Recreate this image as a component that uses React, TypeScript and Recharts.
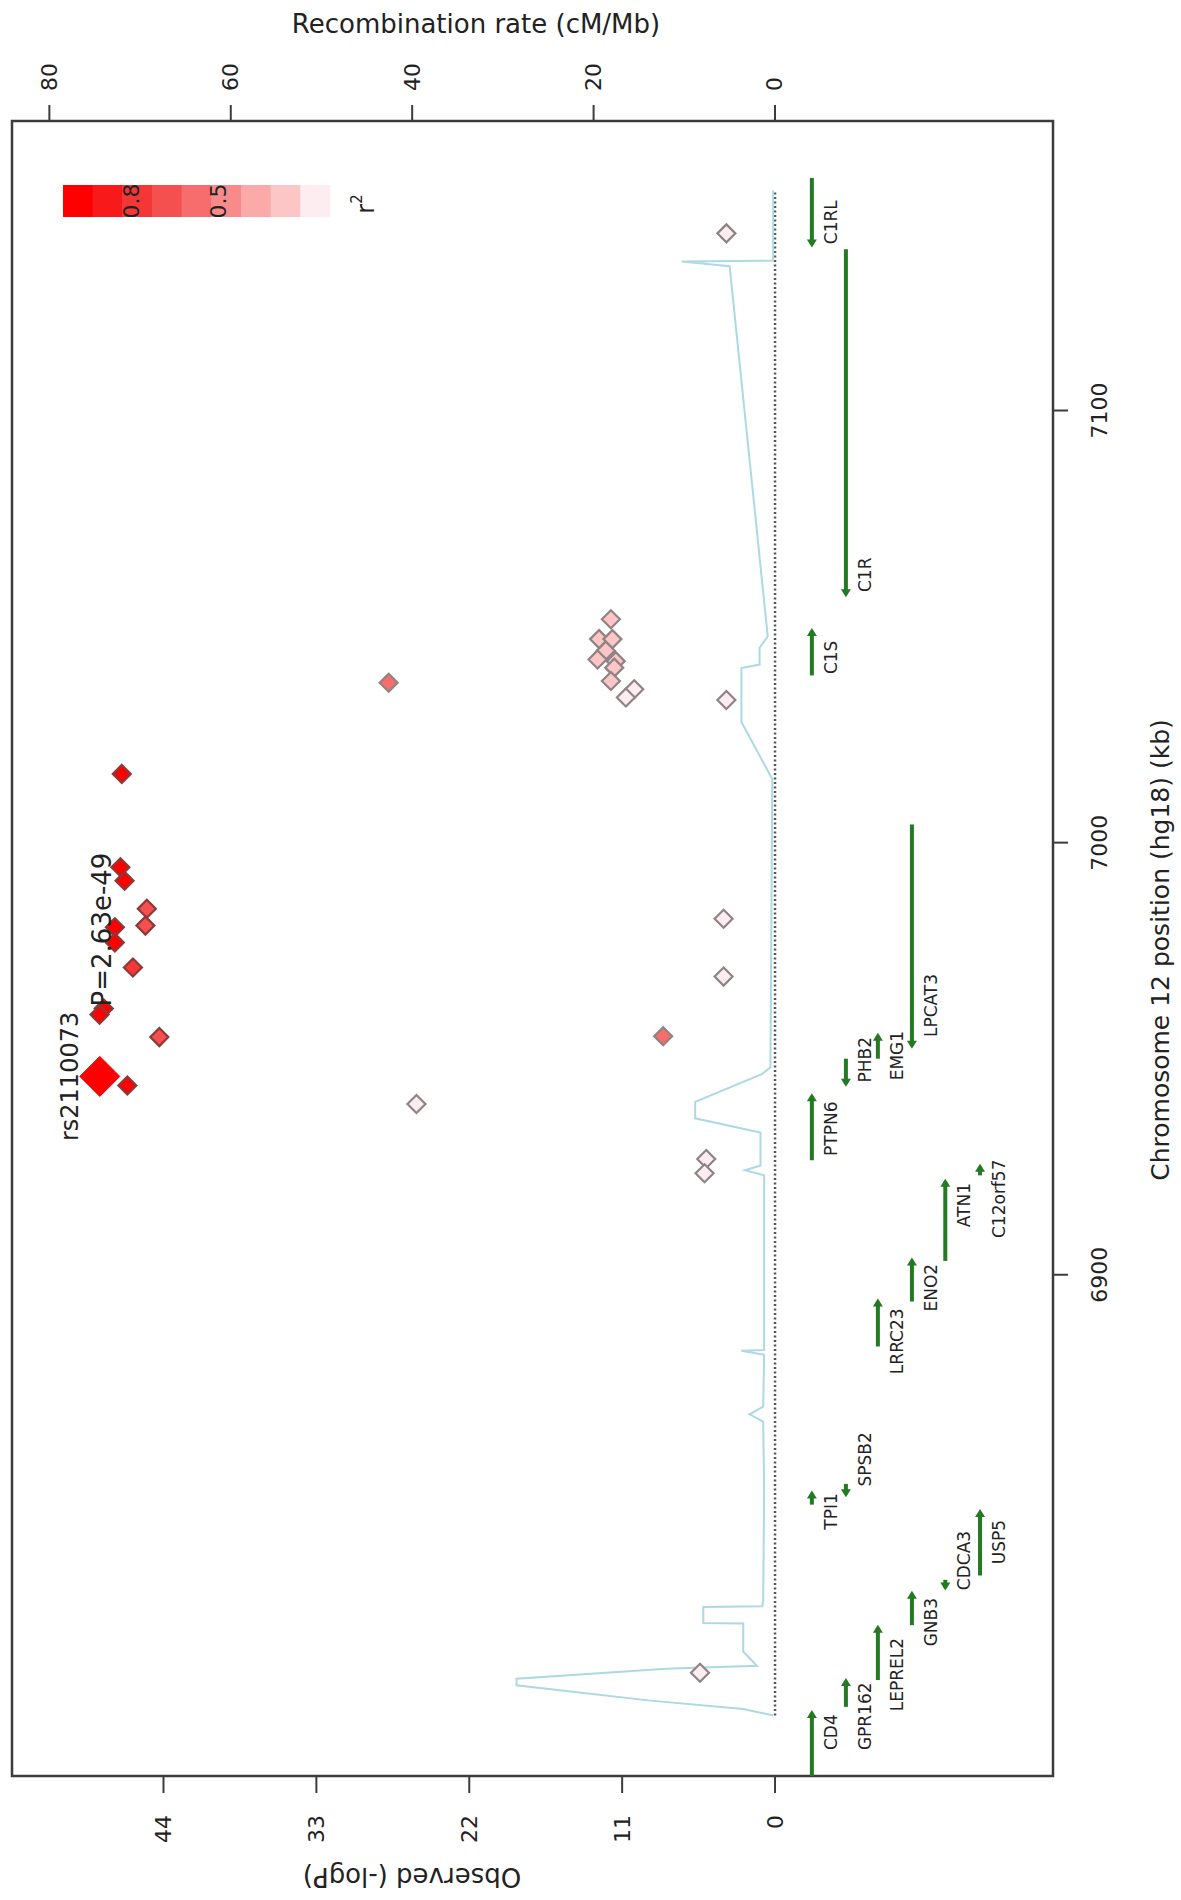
import React from 'react';
import { ScatterChart, Scatter, XAxis, YAxis, ReferenceLine, ReferenceArea } from 'recharts';

const CHART_W = 1181;
const CHART_H = 1900;
const FONT = '"DejaVu Sans", "Liberation Sans", sans-serif';
const INK = '#222222';
const FRAME = '#3c3c3c';
const GENE_GREEN = '#237a23';
const RECOMB_BLUE = '#ADD8E6';

// ---- axes ----
const POS_DOMAIN: [number, number] = [6784, 7167.0];
const LOGP_DOMAIN: [number, number] = [-20, 54.9];
const RATE_DOMAIN: [number, number] = [-30.65, 84.12];
const POS_TICKS = [6900, 7000, 7100];
const LOGP_TICKS = [0, 11, 22, 33, 44];
const RATE_TICKS = [0, 20, 40, 60, 80];

// ---- SNPs ----
const indexSnp = [{ pos: 6945.9, logp: 48.58, name: 'rs2110073', p: 'P=2.63e-49' }];

const snps = [
  { pos: 7015.9, logp: 47.0, r2: 0.92 },
  { pos: 6994.3, logp: 47.1, r2: 0.92 },
  { pos: 6991.2, logp: 46.8, r2: 0.9 },
  { pos: 6984.7, logp: 45.2, r2: 0.65 },
  { pos: 6980.8, logp: 45.3, r2: 0.65 },
  { pos: 6980.4, logp: 47.5, r2: 0.92 },
  { pos: 6976.9, logp: 47.5, r2: 0.92 },
  { pos: 6971.1, logp: 46.2, r2: 0.7 },
  { pos: 6961.6, logp: 48.3, r2: 0.92 },
  { pos: 6960.2, logp: 48.6, r2: 0.92 },
  { pos: 6955.0, logp: 44.3, r2: 0.65 },
  { pos: 6943.8, logp: 46.6, r2: 0.9 },
  { pos: 7037.0, logp: 27.8, r2: 0.45 },
  { pos: 7051.7, logp: 11.81, r2: 0.18 },
  { pos: 7047.1, logp: 12.66, r2: 0.18 },
  { pos: 7047.1, logp: 11.7, r2: 0.18 },
  { pos: 7044.4, logp: 12.18, r2: 0.18 },
  { pos: 7042.4, logp: 12.77, r2: 0.18 },
  { pos: 7042.0, logp: 11.46, r2: 0.18 },
  { pos: 7040.5, logp: 11.57, r2: 0.18 },
  { pos: 7037.4, logp: 11.81, r2: 0.18 },
  { pos: 7035.5, logp: 10.13, r2: 0.03 },
  { pos: 7033.6, logp: 10.73, r2: 0.03 },
  { pos: 6939.5, logp: 25.8, r2: 0.05 },
  { pos: 7141.0, logp: 3.5, r2: 0.02 },
  { pos: 7033.0, logp: 3.5, r2: 0.02 },
  { pos: 6982.4, logp: 3.7, r2: 0.02 },
  { pos: 6969.0, logp: 3.7, r2: 0.02 },
  { pos: 6955.2, logp: 8.05, r2: 0.45 },
  { pos: 6926.8, logp: 4.95, r2: 0.02 },
  { pos: 6923.5, logp: 5.07, r2: 0.02 },
  { pos: 6807.9, logp: 5.4, r2: 0.02 },
];

// ---- recombination rate (cM/Mb) along position (kb) ----
const recomb = [
  { pos: 6798.0, rate: 0.2 },
  { pos: 6799.5, rate: 3.5 },
  { pos: 6801.5, rate: 14 },
  { pos: 6805.0, rate: 28.5 },
  { pos: 6806.5, rate: 28.5 },
  { pos: 6808.8, rate: 12 },
  { pos: 6809.5, rate: 2.0 },
  { pos: 6810.6, rate: 2.5 },
  { pos: 6812.8, rate: 3.5 },
  { pos: 6819.3, rate: 3.5 },
  { pos: 6819.4, rate: 7.9 },
  { pos: 6823.1, rate: 7.9 },
  { pos: 6823.3, rate: 1.4 },
  { pos: 6824.7, rate: 1.3 },
  { pos: 6850.0, rate: 1.2 },
  { pos: 6866.0, rate: 1.3 },
  { pos: 6867.7, rate: 2.8 },
  { pos: 6869.5, rate: 1.3 },
  { pos: 6881.5, rate: 1.2 },
  { pos: 6882.4, rate: 3.7 },
  { pos: 6882.6, rate: 1.2 },
  { pos: 6923.0, rate: 1.2 },
  { pos: 6924.2, rate: 3.3 },
  { pos: 6925.3, rate: 1.6 },
  { pos: 6932.9, rate: 1.6 },
  { pos: 6936.2, rate: 8.8 },
  { pos: 6940.0, rate: 8.8 },
  { pos: 6946.5, rate: 1.4 },
  { pos: 6948.0, rate: 0.5 },
  { pos: 7014.7, rate: 0.3 },
  { pos: 7027.9, rate: 3.7 },
  { pos: 7040.4, rate: 3.7 },
  { pos: 7041.2, rate: 1.7 },
  { pos: 7045.1, rate: 1.7 },
  { pos: 7047.7, rate: 0.8 },
  { pos: 7133.4, rate: 5.0 },
  { pos: 7134.5, rate: 10.3 },
  { pos: 7134.7, rate: 0.2 },
  { pos: 7151.0, rate: 0.2 },
];

const BASELINE = { from: 6798, to: 7151 };

// ---- genes (kb) ----
const TRACK_LOGP = [-2.65, -5.1, -7.4, -9.85, -12.25, -14.75];

const genes = [
  { name: 'CD4', start: 6784, end: 6798.6, strand: '+', track: 0, labelAt: 6790 },
  { name: 'GPR162', start: 6800, end: 6806, strand: '+', track: 1, labelAt: 6790 },
  { name: 'LEPREL2', start: 6806.2, end: 6818.3, strand: '+', track: 2, labelAt: 6799 },
  { name: 'GNB3', start: 6818.9, end: 6826.2, strand: '+', track: 3, labelAt: 6814 },
  { name: 'CDCA3', start: 6827.6, end: 6829.4, strand: '-', track: 4, labelAt: 6827 },
  { name: 'USP5', start: 6830.4, end: 6845.1, strand: '+', track: 5, labelAt: 6833 },
  { name: 'TPI1', start: 6846.8, end: 6849.4, strand: '+', track: 0, labelAt: 6841 },
  { name: 'SPSB2', start: 6849.2, end: 6851.6, strand: '-', track: 1, labelAt: 6851 },
  { name: 'LRRC23', start: 6883.4, end: 6893.8, strand: '+', track: 2, labelAt: 6877 },
  { name: 'ENO2', start: 6893.8, end: 6903.3, strand: '+', track: 3, labelAt: 6891.5 },
  { name: 'ATN1', start: 6903.2, end: 6921.5, strand: '+', track: 4, labelAt: 6911 },
  { name: 'C12orf57', start: 6923, end: 6925, strand: '+', track: 5, labelAt: 6908.5 },
  { name: 'PTPN6', start: 6926.5, end: 6941.3, strand: '+', track: 0, labelAt: 6927.5 },
  { name: 'PHB2', start: 6944.2, end: 6950, strand: '-', track: 1, labelAt: 6944.5 },
  { name: 'EMG1', start: 6950, end: 6955.3, strand: '+', track: 2, labelAt: 6945 },
  { name: 'LPCAT3', start: 6953, end: 7004.2, strand: '-', track: 3, labelAt: 6955 },
  { name: 'C1S', start: 7038.7, end: 7049, strand: '+', track: 0, labelAt: 7039 },
  { name: 'C1R', start: 7057.5, end: 7137.3, strand: '-', track: 1, labelAt: 7058 },
  { name: 'C1RL', start: 7138.4, end: 7153.8, strand: '-', track: 0, labelAt: 7138.5 },
];

// ---- r^2 colour bins (1.0 -> 0.0) ----
const R2_COLORS = ['#FF0000', '#F81A1A', '#F43636', '#F55050', '#F76C6C', '#F98A8A', '#FBA9A9', '#FCC6C6', '#FEEDF0'];
const LEGEND_LABELS = [0.8, 0.5];

const r2Color = (r2: number) => {
  const i = Math.min(R2_COLORS.length - 1, Math.max(0, Math.floor((1 - r2) * R2_COLORS.length)));
  return R2_COLORS[i];
};

const snpData = [...snps].sort((a, b) => a.r2 - b.r2);
const geneLabelData = genes.map((g) => ({ logp: TRACK_LOGP[g.track], pos: g.labelAt, name: g.name }));

// ---- renderers ----
const Diamond = (props: any) => {
  const { cx, cy, payload } = props;
  if (cx == null || cy == null) return <g />;
  const h = 9;
  const strong = payload.r2 >= 0.6;
  return (
    <polygon
      points={`${cx},${cy - h} ${cx + h},${cy} ${cx},${cy + h} ${cx - h},${cy}`}
      fill={r2Color(payload.r2)}
      stroke={strong ? '#8e3838' : '#8f8484'}
      strokeWidth={2.2}
    />
  );
};

const IndexDiamond = (props: any) => {
  const { cx, cy } = props;
  if (cx == null || cy == null) return <g />;
  const h = 20;
  return (
    <polygon
      points={`${cx},${cy - h} ${cx + h},${cy} ${cx},${cy + h} ${cx - h},${cy}`}
      fill="#FF0000"
      stroke="#E00000"
      strokeWidth={1}
    />
  );
};

const NoDot = () => <g />;

const IndexName = (props: any) => {
  const { cx, cy, payload } = props;
  if (cx == null) return <g />;
  const x = cx - 30;
  return (
    <text x={x} y={cy} transform={`rotate(-90 ${x} ${cy})`} textAnchor="middle" dominantBaseline="central"
      fontFamily={FONT} fontSize={24} fill={INK}>{payload.name}</text>
  );
};

const IndexP = (props: any) => {
  const { cx, cy, payload } = props;
  if (cx == null) return <g />;
  const x = cx + 2;
  const y = cy - 70;
  return (
    <text x={x} y={y} transform={`rotate(-90 ${x} ${y})`} textAnchor="start" dominantBaseline="central"
      fontFamily={FONT} fontSize={26} fill={INK}>{payload.p}</text>
  );
};

const GeneLabel = (props: any) => {
  const { cx, cy, payload } = props;
  if (cx == null) return <g />;
  const x = cx + 19;
  return (
    <text x={x} y={cy} transform={`rotate(-90 ${x} ${cy})`} textAnchor="start" dominantBaseline="central"
      fontFamily={FONT} fontSize={17} fill={INK}>{payload.name}</text>
  );
};

const makeGeneShape = (strand: string) => (p: any) => {
  const { x1, y1, x2, y2 } = p;
  const top = Math.min(y1, y2);
  const bottom = Math.max(y1, y2);
  const hw = 5;
  const hl = 8;
  let tip: number;
  let base: number;
  if (strand === '+') {
    tip = top - 3;
    base = tip + hl;
  } else {
    tip = bottom + 3;
    base = tip - hl;
  }
  return (
    <g>
      <line x1={x1} y1={top} x2={x2} y2={bottom} stroke={GENE_GREEN} strokeWidth={4} />
      <polygon points={`${x1},${tip} ${x1 - hw},${base} ${x1 + hw},${base}`} fill={GENE_GREEN} />
    </g>
  );
};

const BottomTick = (p: any) => {
  const x = p.x;
  const y = p.y + 20;
  return (
    <text x={x} y={y} transform={`rotate(-90 ${x} ${y})`} textAnchor="end" dominantBaseline="central"
      fontFamily={FONT} fontSize={22} fill={INK}>{p.payload.value}</text>
  );
};

const TopTick = (p: any) => {
  const x = p.x;
  const y = p.y - 12;
  return (
    <text x={x} y={y} transform={`rotate(-90 ${x} ${y})`} textAnchor="start" dominantBaseline="central"
      fontFamily={FONT} fontSize={22} fill={INK}>{p.payload.value}</text>
  );
};

const RightTick = (p: any) => {
  const x = p.x + 30;
  const y = p.y;
  return (
    <text x={x} y={y} transform={`rotate(-90 ${x} ${y})`} textAnchor="middle" dominantBaseline="central"
      fontFamily={FONT} fontSize={22} fill={INK}>{p.payload.value}</text>
  );
};

const Legend = () => {
  const x0 = 63;
  const y0 = 185;
  const w = 267;
  const h = 32;
  const bw = w / R2_COLORS.length;
  const labelX = (v: number) => 131 + (0.8 - v) * 293.3;
  return (
    <svg width={CHART_W} height={CHART_H} style={{ position: 'absolute', left: 0, top: 0, pointerEvents: 'none' }}>
      {R2_COLORS.map((c, i) => (
        <rect key={i} x={x0 + i * bw} y={y0} width={bw + 0.5} height={h} fill={c} />
      ))}
      {LEGEND_LABELS.map((v) => (
        <text key={v} x={labelX(v)} y={y0 + h / 2} transform={`rotate(-90 ${labelX(v)} ${y0 + h / 2})`}
          textAnchor="middle" dominantBaseline="central" fontFamily={FONT} fontSize={22} fill={INK}>{v}</text>
      ))}
      <text x={366} y={204} transform="rotate(-90 366 204)" textAnchor="middle" dominantBaseline="central"
        fontFamily={FONT} fontSize={24} fill={INK}>r<tspan dy={-9} fontSize={15}>2</tspan></text>
      <text x={476} y={24} textAnchor="middle" dominantBaseline="central" fontFamily={FONT} fontSize={26} fill={INK}>
        Recombination rate (cM/Mb)
      </text>
      <text x={1160} y={950} transform="rotate(-90 1160 950)" textAnchor="middle" dominantBaseline="central"
        fontFamily={FONT} fontSize={25} fill={INK}>Chromosome 12 position (hg18) (kb)</text>
      <text x={412} y={1877} transform="rotate(180 412 1877)" textAnchor="middle" dominantBaseline="central"
        fontFamily={FONT} fontSize={26} fill={INK}>Observed (-logP)</text>
    </svg>
  );
};

export default function App() {
  return (
    <div style={{ position: 'absolute', left: 0, top: 0, width: CHART_W, height: CHART_H, background: '#fff' }}>
      <ScatterChart width={CHART_W} height={CHART_H} margin={{ top: 0, right: 0, bottom: 0, left: 12 }}>
        <XAxis xAxisId="p" type="number" dataKey="logp" orientation="bottom" reversed domain={LOGP_DOMAIN}
          allowDataOverflow ticks={LOGP_TICKS} height={124} axisLine={false} tickSize={17}
          tickLine={{ stroke: FRAME, strokeWidth: 2 }} tick={<BottomTick />} interval={0} />
        <XAxis xAxisId="r" type="number" dataKey="rate" orientation="top" reversed domain={RATE_DOMAIN}
          allowDataOverflow ticks={RATE_TICKS} height={121} axisLine={false} tickSize={16}
          tickLine={{ stroke: FRAME, strokeWidth: 2 }} tick={<TopTick />} interval={0} />
        <YAxis yAxisId="pos" type="number" dataKey="pos" orientation="right" domain={POS_DOMAIN}
          allowDataOverflow ticks={POS_TICKS} width={128} axisLine={false} tickSize={15}
          tickLine={{ stroke: FRAME, strokeWidth: 2 }} tick={<RightTick />} interval={0} />

        <Scatter data={recomb} xAxisId="r" yAxisId="pos" line={{ stroke: RECOMB_BLUE, strokeWidth: 2 }}
          lineType="joint" shape={<NoDot />} isAnimationActive={false} />

        <ReferenceLine xAxisId="p" yAxisId="pos" ifOverflow="visible"
          segment={[{ x: 0, y: BASELINE.from }, { x: 0, y: BASELINE.to }]}
          stroke="#555" strokeWidth={2.5} strokeDasharray="2 2.5" />

        {genes.map((g) => (
          <ReferenceLine key={g.name} xAxisId="p" yAxisId="pos" ifOverflow="visible"
            segment={[{ x: TRACK_LOGP[g.track], y: g.start }, { x: TRACK_LOGP[g.track], y: g.end }]}
            shape={makeGeneShape(g.strand)} />
        ))}

        <Scatter data={geneLabelData} xAxisId="p" yAxisId="pos" shape={<GeneLabel />} isAnimationActive={false} />
        <Scatter data={snpData} xAxisId="p" yAxisId="pos" shape={<Diamond />} isAnimationActive={false} />
        <Scatter data={indexSnp} xAxisId="p" yAxisId="pos" shape={<IndexDiamond />} isAnimationActive={false} />
        <Scatter data={indexSnp} xAxisId="p" yAxisId="pos" shape={<IndexName />} isAnimationActive={false} />
        <Scatter data={indexSnp} xAxisId="p" yAxisId="pos" shape={<IndexP />} isAnimationActive={false} />

        <ReferenceArea xAxisId="p" yAxisId="pos" x1={LOGP_DOMAIN[0]} x2={LOGP_DOMAIN[1]} y1={POS_DOMAIN[0]}
          y2={POS_DOMAIN[1]} fill="none" fillOpacity={0} stroke={FRAME} strokeWidth={2.5} ifOverflow="visible" />
      </ScatterChart>
      <Legend />
    </div>
  );
}
